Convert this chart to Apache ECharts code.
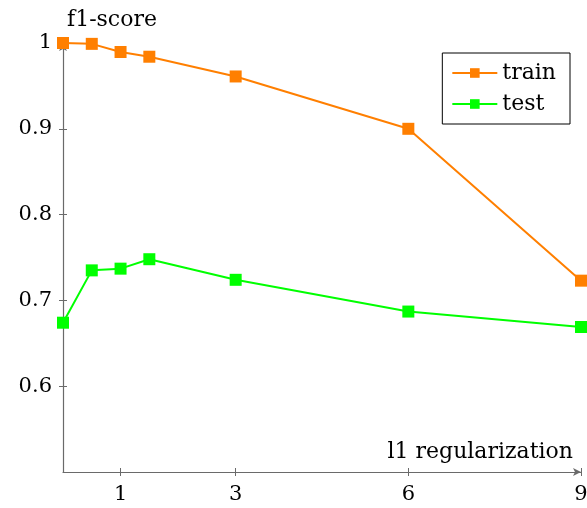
<!DOCTYPE html>
<html>
<head>
<meta charset="utf-8">
<script src="https://cdn.jsdelivr.net/npm/echarts@6/dist/echarts.min.js"></script>
<style>html,body{margin:0;padding:0;background:#fff}#c{width:587px;height:508px}</style>
</head>
<body>
<div id="c"></div>
<script>
const xValues = [0, 0.5, 1, 1.5, 3, 6, 9];
const trainValues = [1.0, 0.999, 0.9895, 0.984, 0.961, 0.900, 0.723];
const testValues = [0.674, 0.735, 0.737, 0.748, 0.724, 0.687, 0.669];
const xTicks = [1, 3, 6, 9];
const yTicks = [0.6, 0.7, 0.8, 0.9, 1];
const seriesNames = ['train', 'test'];
const xLabel = 'l1 regularization';
const yLabel = 'f1-score';

const FONT = 'DejaVu Serif';
const FS = 21;
const NFS = 22;
const axisGray = '#6a6a6a';

const chart = echarts.init(document.getElementById('c'), null, {renderer: 'canvas'});
const pairs = arr => xValues.map((x, i) => [x, arr[i]]);
const yFmt = v => (Math.abs(v - 1) < 1e-9 ? '1' : v.toFixed(1));

chart.setOption({
  animation: false,
  backgroundColor: '#fff',
  grid: {left: 63, right: 6, top: 43, bottom: 36, containLabel: false, outerBoundsMode: 'none'},
  legend: {
    orient: 'vertical',
    right: 17, top: 53,
    data: seriesNames,
    borderColor: '#000', borderWidth: 1, borderRadius: 0,
    padding: [9, 14, 9, 9],
    itemWidth: 45, itemHeight: 12, itemGap: 9,
    textStyle: {fontFamily: FONT, fontSize: NFS, color: '#000'}
  },
  xAxis: [{
    type: 'value', min: 0, max: 9,
    name: xLabel, nameLocation: 'end', nameGap: -8,
    nameTextStyle: {fontFamily: FONT, fontSize: NFS, color: '#000', align: 'right', verticalAlign: 'bottom', padding: [0, 0, 9, 0]},
    axisLine: {show: true, lineStyle: {color: axisGray, width: 1.2}, symbol: ['none', 'arrow'], symbolSize: [6, 8]},
    axisTick: {show: true, length: 4, lineStyle: {color: axisGray}, customValues: xTicks},
    axisLabel: {show: true, margin: 12, fontFamily: FONT, fontSize: FS, color: '#000', customValues: xTicks},
    splitLine: {show: false}
  }, {
    type: 'value', min: 0, max: 9, position: 'bottom', gridIndex: 0,
    axisLine: {show: false},
    axisTick: {show: true, inside: true, length: 4, lineStyle: {color: axisGray}, customValues: xTicks},
    axisLabel: {show: false},
    splitLine: {show: false}
  }],
  yAxis: [{
    type: 'value', min: 0.5, max: 1,
    name: yLabel, nameLocation: 'end', nameGap: 12,
    nameTextStyle: {fontFamily: FONT, fontSize: NFS, color: '#000', align: 'left', padding: [0, 0, 0, 4]},
    axisLine: {show: true, lineStyle: {color: axisGray, width: 1.2}, symbol: ['none', 'arrow'], symbolSize: [6, 8]},
    axisTick: {show: true, length: 4, lineStyle: {color: axisGray}, customValues: yTicks},
    axisLabel: {show: true, margin: 11, fontFamily: FONT, fontSize: FS, color: '#000', customValues: yTicks, formatter: yFmt},
    splitLine: {show: false}
  }, {
    type: 'value', min: 0.5, max: 1, position: 'left', gridIndex: 0,
    axisLine: {show: false},
    axisTick: {show: true, inside: true, length: 4, lineStyle: {color: axisGray}, customValues: yTicks},
    axisLabel: {show: false},
    splitLine: {show: false}
  }],
  series: [{
    name: seriesNames[0], type: 'line', data: pairs(trainValues),
    symbol: 'rect', symbolSize: 12, showAllSymbol: true,
    lineStyle: {color: '#ff7f00', width: 2}, itemStyle: {color: '#ff7f00'}, z: 3
  }, {
    name: seriesNames[1], type: 'line', data: pairs(testValues),
    symbol: 'rect', symbolSize: 12, showAllSymbol: true,
    lineStyle: {color: '#00ff00', width: 2}, itemStyle: {color: '#00ff00'}, z: 3
  }]
});
</script>
</body>
</html>
